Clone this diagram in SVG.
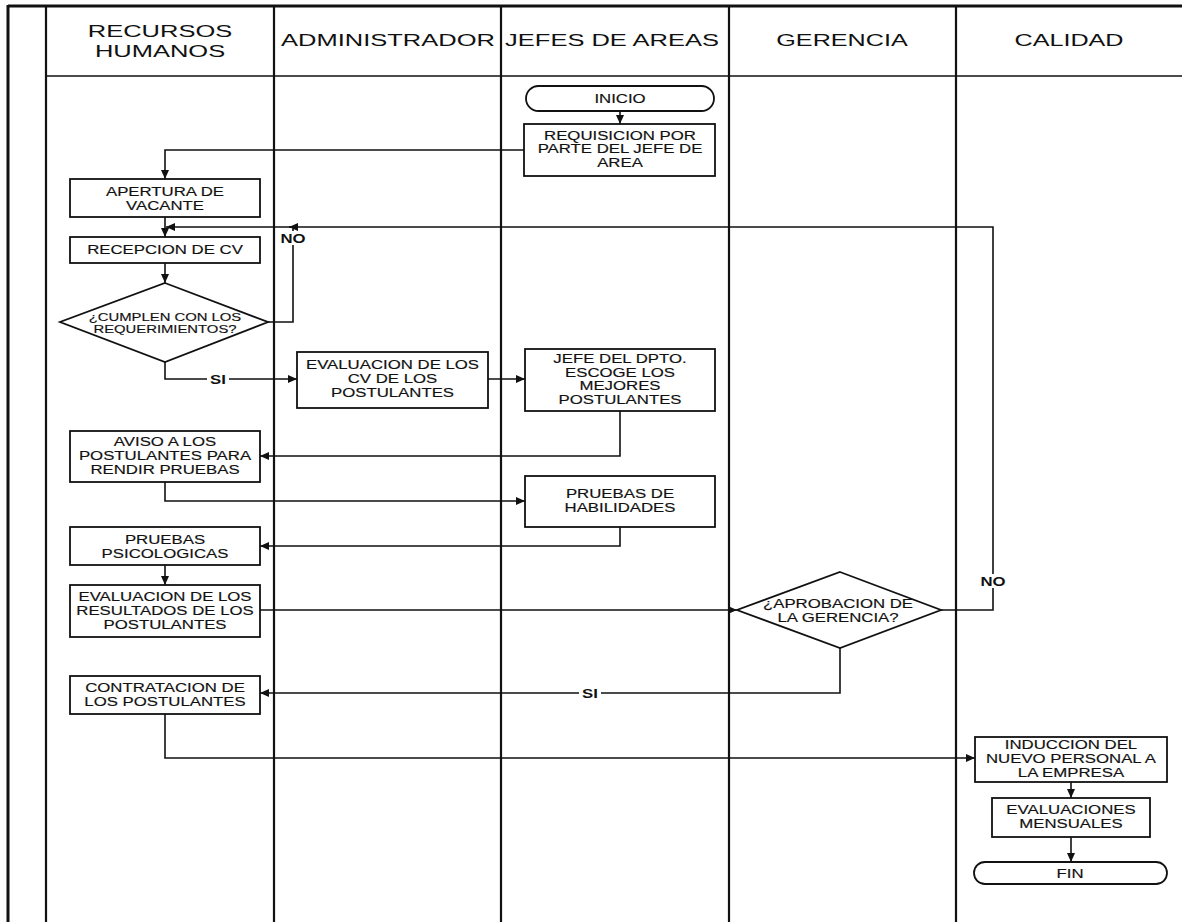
<svg xmlns="http://www.w3.org/2000/svg" width="1182" height="922" viewBox="0 0 1182 922">
  <style>
    .lane { stroke:#111; stroke-width:2.2; fill:none; }
    .frame { stroke:#111; stroke-width:3; fill:none; }
    .box { fill:#fff; stroke:#111; stroke-width:1.8; }
    .con { fill:none; stroke:#111; stroke-width:1.6; }
    .t { font-family:"Liberation Sans", Arial, sans-serif; font-size:12px; text-anchor:middle; fill:#111; stroke:#111; stroke-width:0.15; }
    .d { font-size:11px; }
    .g { font-size:12px; }
    .h { font-size:17px; stroke-width:0; }
    .lbl { font-family:"Liberation Sans", Arial, sans-serif; font-size:12px; font-weight:bold; text-anchor:middle; fill:#111; }
    .bg { fill:#fff; stroke:none; }
  </style>
  <defs>
    <marker id="arr" viewBox="0 0 9 8" markerWidth="9" markerHeight="8" refX="9" refY="4" orient="auto" markerUnits="userSpaceOnUse">
      <path d="M0,0 L9,4 L0,8 z" fill="#111"/>
    </marker>
  </defs>

  <rect width="1182" height="922" fill="#fff"/>

  <!-- swimlane frame -->
  <g id="lanes">
    <line class="frame" x1="8" y1="6" x2="1182" y2="6"/>
    <line class="frame" x1="8" y1="5" x2="8" y2="922"/>
    <line class="lane" x1="46" y1="6" x2="46" y2="922"/>
    <line class="lane" x1="274" y1="6" x2="274" y2="922"/>
    <line class="lane" x1="501" y1="6" x2="501" y2="922"/>
    <line class="lane" x1="729" y1="6" x2="729" y2="922"/>
    <line class="lane" x1="956" y1="6" x2="956" y2="922"/>
    <line class="lane" x1="46" y1="76" x2="1182" y2="76" style="stroke-width:1.6"/>
    <text class="t h" transform="matrix(1.5 0 0 1 160 37)">RECURSOS</text>
    <text class="t h" transform="matrix(1.5 0 0 1 160 57)">HUMANOS</text>
    <text class="t h" transform="matrix(1.5 0 0 1 388 46)">ADMINISTRADOR</text>
    <text class="t h" transform="matrix(1.5 0 0 1 612 46)">JEFES DE AREAS</text>
    <text class="t h" transform="matrix(1.48 0 0 1 842 46)">GERENCIA</text>
    <text class="t h" transform="matrix(1.48 0 0 1 1069 46)">CALIDAD</text>
  </g>

  <!-- connectors -->
  <g id="connectors">
    <path class="con" d="M620,111 V124" marker-end="url(#arr)"/>
    <path class="con" d="M524,150 H165 V179" marker-end="url(#arr)"/>
    <path class="con" d="M165,217 V237" marker-end="url(#arr)"/>
    <path class="con" d="M165,263 V283" marker-end="url(#arr)"/>
    <path class="con" d="M268,322 H293 V227 H166" marker-end="url(#arr)"/>
    <path class="con" d="M165,362 V379 H297" marker-end="url(#arr)"/>
    <path class="con" d="M488,379 H525" marker-end="url(#arr)"/>
    <path class="con" d="M620,411 V456 H260" marker-end="url(#arr)"/>
    <path class="con" d="M165,482 V501 H525" marker-end="url(#arr)"/>
    <path class="con" d="M620,527 V546 H260" marker-end="url(#arr)"/>
    <path class="con" d="M165,565 V585" marker-end="url(#arr)"/>
    <path class="con" d="M260,610 H737" marker-end="url(#arr)"/>
    <path class="con" d="M941,610 H993 V227 H289" marker-end="url(#arr)"/>
    <path class="con" d="M840,648 V693 H260" marker-end="url(#arr)"/>
    <path class="con" d="M165,714 V758 H975" marker-end="url(#arr)"/>
    <path class="con" d="M1071,782 V798" marker-end="url(#arr)"/>
    <path class="con" d="M1071,837 V862" marker-end="url(#arr)"/>
    <!-- branch labels -->
    <rect class="bg" x="280" y="231" width="26" height="14"/>
    <text class="lbl" transform="matrix(1.4 0 0 1 293 243)">NO</text>
    <rect class="bg" x="207" y="372" width="22" height="14"/>
    <text class="lbl" transform="matrix(1.4 0 0 1 218 383.5)">SI</text>
    <rect class="bg" x="980" y="574" width="26" height="14"/>
    <text class="lbl" transform="matrix(1.4 0 0 1 993 586)">NO</text>
    <rect class="bg" x="579" y="686" width="22" height="14"/>
    <text class="lbl" transform="matrix(1.4 0 0 1 590 697.5)">SI</text>
  </g>

  <g id="inicio">
    <rect class="box" x="526" y="86" width="188" height="25" rx="12.5"/>
    <text class="t" transform="matrix(1.4 0 0 1 620 102.5)">INICIO</text>
  </g>

  <g id="requisicion">
    <rect class="box" x="524" y="124" width="191" height="52"/>
    <text class="t" transform="matrix(1.4 0 0 1 620 139.5)">REQUISICION POR</text>
    <text class="t" transform="matrix(1.4 0 0 1 620 153)">PARTE DEL JEFE DE</text>
    <text class="t" transform="matrix(1.4 0 0 1 620 167)">AREA</text>
  </g>

  <g id="apertura">
    <rect class="box" x="70" y="179" width="190" height="38"/>
    <text class="t" transform="matrix(1.4 0 0 1 165 196)">APERTURA DE</text>
    <text class="t" transform="matrix(1.4 0 0 1 165 209.5)">VACANTE</text>
  </g>

  <g id="recepcion">
    <rect class="box" x="70" y="237" width="190" height="26"/>
    <text class="t" transform="matrix(1.4 0 0 1 165 254)">RECEPCION DE CV</text>
  </g>

  <g id="cumplen">
    <polygon class="box" points="165,283 268,322 165,362 60,322"/>
    <text class="t d" transform="matrix(1.35 0 0 1 165 321)">¿CUMPLEN CON LOS</text>
    <text class="t d" transform="matrix(1.35 0 0 1 165 332.5)">REQUERIMIENTOS?</text>
  </g>

  <g id="evaluacion-cv">
    <rect class="box" x="297" y="352" width="191" height="56"/>
    <text class="t" transform="matrix(1.4 0 0 1 392.5 369)">EVALUACION DE LOS</text>
    <text class="t" transform="matrix(1.4 0 0 1 392.5 383)">CV DE LOS</text>
    <text class="t" transform="matrix(1.4 0 0 1 392.5 397)">POSTULANTES</text>
  </g>

  <g id="jefe-dpto">
    <rect class="box" x="525" y="349" width="190" height="62"/>
    <text class="t" transform="matrix(1.4 0 0 1 620 363)">JEFE DEL DPTO.</text>
    <text class="t" transform="matrix(1.4 0 0 1 620 376.5)">ESCOGE LOS</text>
    <text class="t" transform="matrix(1.4 0 0 1 620 390)">MEJORES</text>
    <text class="t" transform="matrix(1.4 0 0 1 620 403.5)">POSTULANTES</text>
  </g>

  <g id="aviso">
    <rect class="box" x="70" y="431" width="190" height="51"/>
    <text class="t" transform="matrix(1.4 0 0 1 165 446)">AVISO A LOS</text>
    <text class="t" transform="matrix(1.4 0 0 1 165 460)">POSTULANTES PARA</text>
    <text class="t" transform="matrix(1.4 0 0 1 165 473.5)">RENDIR PRUEBAS</text>
  </g>

  <g id="habilidades">
    <rect class="box" x="525" y="476" width="190" height="51"/>
    <text class="t" transform="matrix(1.4 0 0 1 620 498)">PRUEBAS DE</text>
    <text class="t" transform="matrix(1.4 0 0 1 620 512)">HABILIDADES</text>
  </g>

  <g id="psicologicas">
    <rect class="box" x="70" y="527" width="190" height="38"/>
    <text class="t" transform="matrix(1.4 0 0 1 165 544)">PRUEBAS</text>
    <text class="t" transform="matrix(1.4 0 0 1 165 557.5)">PSICOLOGICAS</text>
  </g>

  <g id="evaluacion-resultados">
    <rect class="box" x="70" y="585" width="190" height="52"/>
    <text class="t" transform="matrix(1.4 0 0 1 165 601)">EVALUACION DE LOS</text>
    <text class="t" transform="matrix(1.4 0 0 1 165 615)">RESULTADOS DE LOS</text>
    <text class="t" transform="matrix(1.4 0 0 1 165 628.5)">POSTULANTES</text>
  </g>

  <g id="aprobacion">
    <polygon class="box" points="840,572 941,610 840,648 737,610"/>
    <text class="t g" transform="matrix(1.4 0 0 1 838 608)">¿APROBACION DE</text>
    <text class="t g" transform="matrix(1.4 0 0 1 838 622)">LA GERENCIA?</text>
  </g>

  <g id="contratacion">
    <rect class="box" x="70" y="676" width="190" height="38"/>
    <text class="t" transform="matrix(1.4 0 0 1 165 692)">CONTRATACION DE</text>
    <text class="t" transform="matrix(1.4 0 0 1 165 705.5)">LOS POSTULANTES</text>
  </g>

  <g id="induccion">
    <rect class="box" x="975" y="737" width="192" height="45"/>
    <text class="t" transform="matrix(1.4 0 0 1 1071 748.5)">INDUCCION DEL</text>
    <text class="t" transform="matrix(1.4 0 0 1 1071 762.5)">NUEVO PERSONAL A</text>
    <text class="t" transform="matrix(1.4 0 0 1 1071 776.5)">LA EMPRESA</text>
  </g>

  <g id="evaluaciones-mensuales">
    <rect class="box" x="992" y="798" width="158" height="39"/>
    <text class="t" transform="matrix(1.4 0 0 1 1071 814)">EVALUACIONES</text>
    <text class="t" transform="matrix(1.4 0 0 1 1071 827.5)">MENSUALES</text>
  </g>

  <g id="fin">
    <rect class="box" x="974" y="862" width="193" height="22" rx="11"/>
    <text class="t" transform="matrix(1.4 0 0 1 1070 877.5)">FIN</text>
  </g>
</svg>
